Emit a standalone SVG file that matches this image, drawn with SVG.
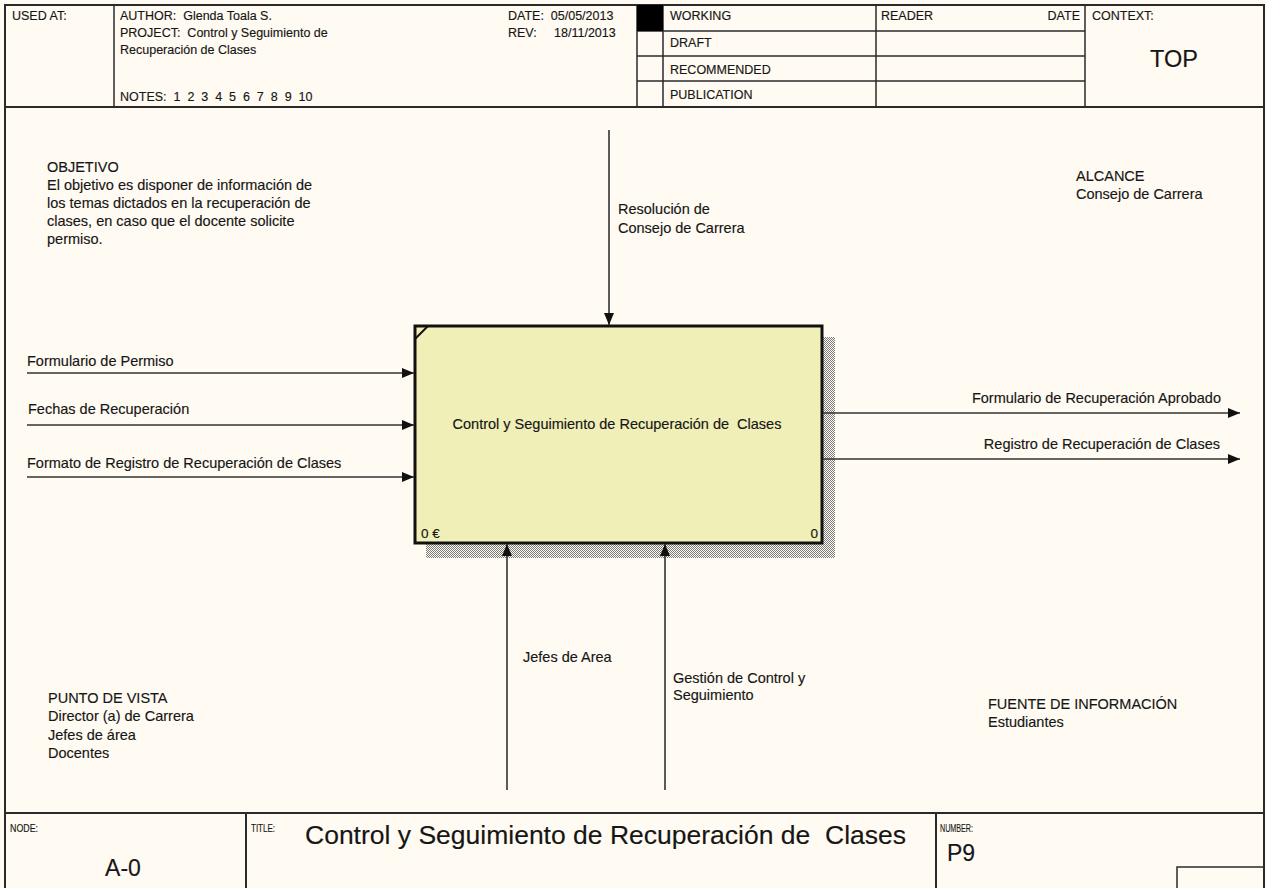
<svg xmlns="http://www.w3.org/2000/svg" width="1266" height="888" viewBox="0 0 1266 888">
  <style>
    .t { font-family: "Liberation Sans", Arial, sans-serif; fill: #161616; stroke: #161616; stroke-width: 0.15px; }
    .h { font-size: 12.5px; }
    .b { font-size: 14.5px; }
    .s { font-size: 11.5px; }
    .frame { fill: none; stroke: #2a2a2a; stroke-width: 2; }
    .grid { fill: none; stroke: #2a2a2a; stroke-width: 1.5; }
    .conn { fill: none; stroke: #333; stroke-width: 1.6; }
  </style>
  <defs>
    <pattern id="hatch" width="2" height="2" patternUnits="userSpaceOnUse">
      <rect width="2" height="2" fill="#fffbf2"/>
      <rect x="0" y="0" width="1" height="1" fill="#7a7a7a"/>
      <rect x="1" y="1" width="1" height="1" fill="#7a7a7a"/>
    </pattern>
    <marker id="arr" viewBox="0 0 12 10" refX="12" refY="5" markerWidth="12" markerHeight="10" markerUnits="userSpaceOnUse" orient="auto">
      <path d="M0,0 L12,5 L0,10 z" fill="#111"/>
    </marker>
  </defs>

  <rect x="0" y="0" width="1266" height="888" fill="#fffbf2"/>

  <!-- outer frame & sections -->
  <g id="frame">
    <rect x="5" y="5" width="1259" height="890" class="frame"/>
    <line x1="5" y1="107" x2="1264" y2="107" class="frame"/>
    <line x1="5" y1="813" x2="1264" y2="813" class="frame"/>
  </g>

  <!-- header -->
  <g id="header">
    <line x1="114" y1="5" x2="114" y2="107" class="grid"/>
    <line x1="637" y1="5" x2="637" y2="107" class="grid"/>
    <line x1="663" y1="5" x2="663" y2="107" class="grid"/>
    <line x1="876" y1="5" x2="876" y2="107" class="grid"/>
    <line x1="1085" y1="5" x2="1085" y2="107" class="grid"/>
    <line x1="637" y1="31" x2="1085" y2="31" class="grid"/>
    <line x1="637" y1="56" x2="1085" y2="56" class="grid"/>
    <line x1="637" y1="81" x2="1085" y2="81" class="grid"/>
    <rect x="637" y="5" width="26" height="26" fill="#000"/>
    <text x="12" y="20" class="t h">USED AT:</text>
    <text x="120" y="20" class="t h" xml:space="preserve">AUTHOR:  Glenda Toala S.</text>
    <text x="120" y="37" class="t h" xml:space="preserve">PROJECT:  Control y Seguimiento de</text>
    <text x="120" y="54" class="t h">Recuperación de Clases</text>
    <text x="120" y="101" class="t h" xml:space="preserve">NOTES:  1  2  3  4  5  6  7  8  9  10</text>
    <text x="508" y="20" class="t h" xml:space="preserve">DATE:  05/05/2013</text>
    <text x="508" y="37" class="t h" xml:space="preserve">REV:     18/11/2013</text>
    <text x="670" y="20" class="t h">WORKING</text>
    <text x="670" y="47" class="t h">DRAFT</text>
    <text x="670" y="74" class="t h">RECOMMENDED</text>
    <text x="670" y="99" class="t h">PUBLICATION</text>
    <text x="881" y="20" class="t h">READER</text>
    <text x="1080" y="20" class="t h" text-anchor="end">DATE</text>
    <text x="1092" y="20" class="t h">CONTEXT:</text>
    <text x="1174" y="67" class="t" font-size="23.5" text-anchor="middle">TOP</text>
  </g>

  <!-- notes in body -->
  <g id="objetivo">
    <text class="t b">
      <tspan x="47" y="172">OBJETIVO</tspan>
      <tspan x="47" y="190">El objetivo es disponer de información de</tspan>
      <tspan x="47" y="208">los temas dictados en la recuperación de</tspan>
      <tspan x="47" y="226">clases, en caso que el docente solicite</tspan>
      <tspan x="47" y="244">permiso.</tspan>
    </text>
  </g>
  <g id="alcance">
    <text class="t b">
      <tspan x="1076" y="181">ALCANCE</tspan>
      <tspan x="1076" y="199">Consejo de Carrera</tspan>
    </text>
  </g>
  <g id="punto-de-vista">
    <text class="t b">
      <tspan x="48" y="703">PUNTO DE VISTA</tspan>
      <tspan x="48" y="721">Director (a) de Carrera</tspan>
      <tspan x="48" y="740">Jefes de área</tspan>
      <tspan x="48" y="758">Docentes</tspan>
    </text>
  </g>
  <g id="fuente">
    <text class="t b">
      <tspan x="988" y="709">FUENTE DE INFORMACIÓN</tspan>
      <tspan x="988" y="727">Estudiantes</tspan>
    </text>
  </g>

  <!-- activity box -->
  <g id="A0">
    <rect x="822" y="337" width="13" height="221" fill="url(#hatch)"/>
    <rect x="426" y="543" width="409" height="15" fill="url(#hatch)"/>
    <rect x="415" y="326" width="407" height="217" fill="#f0efb7" stroke="#111" stroke-width="3"/>
    <line x1="415" y1="339" x2="428" y2="326" stroke="#111" stroke-width="2"/>
    <text x="617" y="429" class="t b" text-anchor="middle" xml:space="preserve">Control y Seguimiento de Recuperación de  Clases</text>
    <text x="421" y="538" class="t" font-size="13.5">0 €</text>
    <text x="818" y="538" class="t" font-size="13.5" text-anchor="end">0</text>
  </g>

  <!-- connectors -->
  <g id="connectors">
    <line x1="609" y1="130" x2="609" y2="325" class="conn" marker-end="url(#arr)"/>
    <line x1="27" y1="373" x2="414" y2="373" class="conn" marker-end="url(#arr)"/>
    <line x1="27" y1="425" x2="414" y2="425" class="conn" marker-end="url(#arr)"/>
    <line x1="27" y1="477" x2="414" y2="477" class="conn" marker-end="url(#arr)"/>
    <line x1="823" y1="413" x2="1240" y2="413" class="conn" marker-end="url(#arr)"/>
    <line x1="823" y1="459" x2="1240" y2="459" class="conn" marker-end="url(#arr)"/>
    <line x1="507" y1="790" x2="507" y2="544" class="conn" marker-end="url(#arr)"/>
    <line x1="665" y1="790" x2="665" y2="544" class="conn" marker-end="url(#arr)"/>
    <text class="t b"><tspan x="618" y="214">Resolución de</tspan><tspan x="618" y="233">Consejo de Carrera</tspan></text>
    <text x="27" y="366" class="t b">Formulario de Permiso</text>
    <text x="28" y="414" class="t b">Fechas de Recuperación</text>
    <text x="27" y="468" class="t b">Formato de Registro de Recuperación de Clases</text>
    <text x="1221" y="403" class="t b" text-anchor="end">Formulario de Recuperación Aprobado</text>
    <text x="1220" y="449" class="t b" text-anchor="end">Registro de Recuperación de Clases</text>
    <text x="523" y="662" class="t b">Jefes de Area</text>
    <text class="t b"><tspan x="673" y="683">Gestión de Control y</tspan><tspan x="673" y="700">Seguimiento</tspan></text>
  </g>

  <!-- footer -->
  <g id="footer">
    <line x1="246" y1="813" x2="246" y2="890" class="frame"/>
    <line x1="936" y1="813" x2="936" y2="890" class="frame"/>
    <polyline points="1177,890 1177,867 1264,867" class="grid"/>
    <text x="10" y="832" class="t s" textLength="28" lengthAdjust="spacingAndGlyphs">NODE:</text>
    <text x="123" y="876" class="t" font-size="23" text-anchor="middle">A-0</text>
    <text x="251" y="832" class="t s" textLength="24" lengthAdjust="spacingAndGlyphs">TITLE:</text>
    <text x="305" y="844" class="t" font-size="26.5" xml:space="preserve">Control y Seguimiento de Recuperación de  Clases</text>
    <text x="940" y="832" class="t s" textLength="33" lengthAdjust="spacingAndGlyphs">NUMBER:</text>
    <text x="947" y="861" class="t" font-size="23">P9</text>
  </g>
</svg>
